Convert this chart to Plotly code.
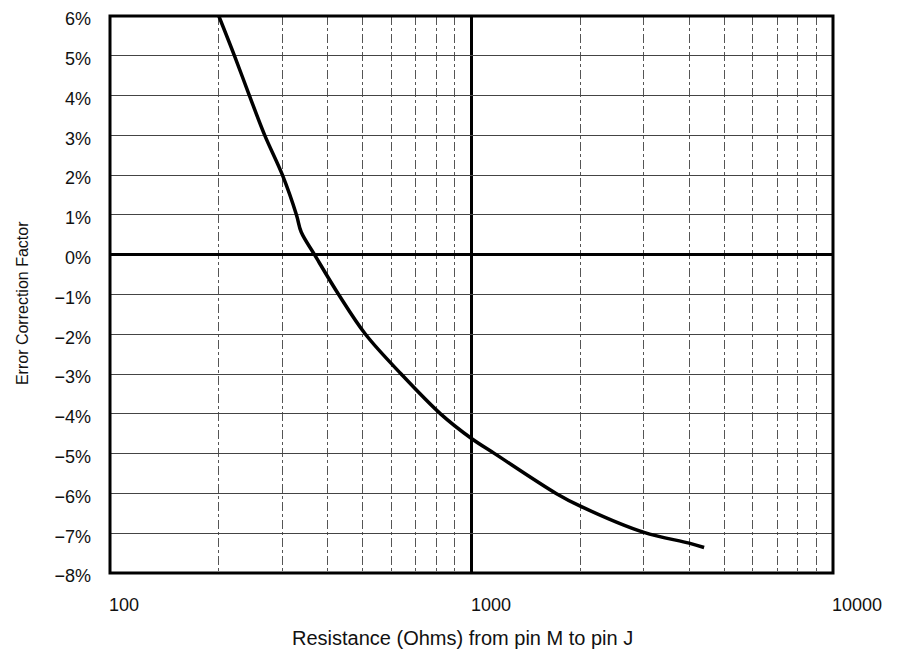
import numpy as np
import plotly.graph_objects as go

# curve: resistance (ohms) vs error correction (%)
resistance = [200, 221, 243, 268, 300, 328, 338, 368, 429, 509, 639, 821,
              1000, 1159, 1714, 2000, 3000, 4000, 4400]
error_pct = [6.0, 5.0, 4.0, 3.0, 2.0, 1.0, 0.57, 0.0, -1.0, -2.0, -3.0, -4.0,
             -4.62, -5.0, -6.0, -6.32, -6.98, -7.25, -7.36]

x_labels = [100, 1000, 10000]
x_minor = [200, 300, 400, 500, 600, 700, 800, 900,
           2000, 3000, 4000, 5000, 6000, 7000, 8000, 9000]
y_ticks = list(range(-8, 7))
y_text = [('\u2212' if v < 0 else '') + f'{abs(v)}%' for v in y_ticks]

font = 'Liberation Sans, Arial, sans-serif'

fig = go.Figure()
fig.add_trace(go.Scatter(x=resistance, y=error_pct, mode='lines',
    line=dict(color='black', width=3.5, shape='spline', smoothing=1.0),
    showlegend=False, hoverinfo='skip'))

fig.update_xaxes(type='log', range=[2, 4], automargin=False,
    tickvals=x_labels, showticklabels=False, ticks='',
    showgrid=True, gridcolor='black', gridwidth=3,
    minor=dict(tickvals=x_minor, showgrid=True, gridcolor='#555', gridwidth=1,
               griddash='dashdot', ticks=''),
    showline=False)

fig.update_yaxes(range=[-8, 6], automargin=False,
    tickvals=y_ticks, ticktext=y_text,
    ticks='', ticklabelstandoff=18, ticklabelshift=3,
    ticklabeloverflow='allow',
    tickfont=dict(size=18, color='#111'),
    showgrid=True, gridcolor='#444', gridwidth=1,
    zeroline=True, zerolinecolor='black', zerolinewidth=3,
    showline=False)

# heavy frame round the plot area
fig.add_shape(type='rect', xref='paper', yref='paper', x0=0, x1=1, y0=0, y1=1,
              line=dict(color='black', width=3), layer='above')

# x tick labels sit left-aligned at their tick in the original
for v in x_labels:
    fig.add_annotation(x=np.log10(v), y=0, xref='x', yref='paper',
        text=str(v), showarrow=False, xanchor='left', yanchor='middle',
        yshift=-32, xshift=-3, font=dict(size=18, color='#111'))

fig.add_annotation(x=0.487, y=-0.116, xref='paper', yref='paper',
    text='Resistance (Ohms) from pin M to pin J', showarrow=False,
    xanchor='center', yanchor='middle', font=dict(size=20, color='#111'))
fig.add_annotation(x=-0.12, y=0.485, xref='paper', yref='paper',
    text='Error Correction Factor', textangle=-90, showarrow=False,
    xanchor='center', yanchor='middle', font=dict(size=16, color='#111'))

# the page body adds 8px round the figure, so keep it inside the window
fig.update_layout(width=885, height=641,
    margin=dict(l=102, r=60, t=8, b=76),
    paper_bgcolor='white', plot_bgcolor='white',
    font=dict(family=font, color='#111'))

fig.write_html('out.html')
